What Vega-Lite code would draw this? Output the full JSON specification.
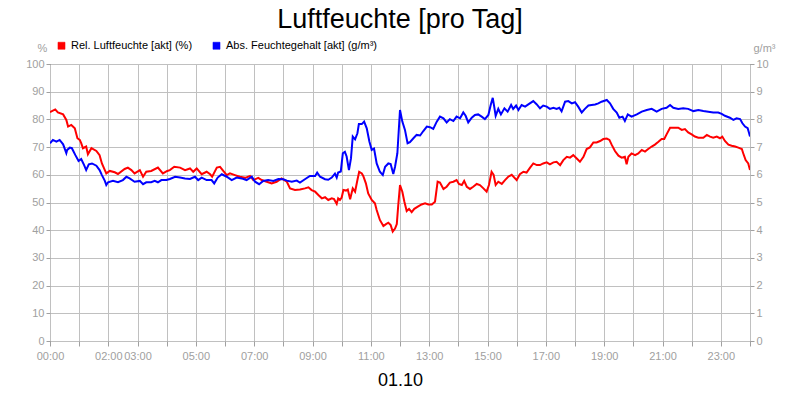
{
  "$schema": "https://vega.github.io/schema/vega-lite/v6.json",
  "width": 700,
  "height": 277,
  "autosize": {"type": "none"},
  "padding": {"left": 50, "top": 64, "right": 50, "bottom": 59},
  "background": "white",
  "title": {"text": "Luftfeuchte [pro Tag]", "fontSize": 27, "font": "Liberation Sans", "fontWeight": "normal", "color": "black", "anchor": "middle", "offset": 6},
  "config": {
    "view": {"stroke": "black", "strokeWidth": 1},
    "font": "Liberation Sans",
    "axis": {"labelColor": "#a0a0a0", "tickColor": "#a0a0a0", "gridColor": "#c0c0c0", "gridOpacity": 1, "domain": false, "labelFont": "Liberation Sans", "labelFontSize": 11, "tickSize": 4, "labelPadding": 2, "titleFont": "Liberation Sans", "titleFontWeight": "normal", "titleColor": "#a0a0a0", "titleFontSize": 11},
    "legend": {"labelFont": "Liberation Sans", "labelFontSize": 11, "labelColor": "black"}
  },
  "datasets": {
    "rel": [
      {"h":0.00,"v":82.6},{"h":0.18,"v":83.6},{"h":0.27,"v":82.5},{"h":0.45,"v":81.8},{"h":0.56,"v":79.8},{"h":0.62,"v":77.4},{"h":0.73,"v":78},{"h":0.85,"v":76.8},{"h":0.94,"v":73.2},{"h":1.02,"v":72.6},{"h":1.07,"v":71.4},{"h":1.13,"v":69.6},{"h":1.24,"v":70.2},{"h":1.30,"v":67.4},{"h":1.42,"v":69.6},{"h":1.59,"v":68.6},{"h":1.70,"v":67.1},{"h":1.78,"v":64.1},{"h":1.88,"v":61.7},{"h":1.93,"v":60.5},{"h":2.05,"v":61.4},{"h":2.22,"v":60.9},{"h":2.33,"v":60.3},{"h":2.56,"v":62.1},{"h":2.67,"v":62.6},{"h":2.79,"v":61.7},{"h":2.90,"v":60.5},{"h":3.08,"v":61.7},{"h":3.19,"v":59.3},{"h":3.30,"v":61.1},{"h":3.47,"v":61.4},{"h":3.70,"v":62.6},{"h":3.87,"v":60.5},{"h":4.02,"v":61.4},{"h":4.11,"v":61.7},{"h":4.26,"v":62.9},{"h":4.46,"v":62.6},{"h":4.63,"v":61.7},{"h":4.80,"v":62.3},{"h":4.91,"v":61.1},{"h":5.03,"v":62.3},{"h":5.20,"v":60.2},{"h":5.37,"v":61.1},{"h":5.49,"v":60.2},{"h":5.56,"v":59.3},{"h":5.72,"v":62.6},{"h":5.83,"v":62.9},{"h":5.94,"v":61.4},{"h":6.06,"v":59.9},{"h":6.17,"v":60.5},{"h":6.34,"v":59.9},{"h":6.51,"v":59.3},{"h":6.69,"v":58.9},{"h":6.86,"v":59.6},{"h":6.97,"v":58.1},{"h":7.14,"v":58.9},{"h":7.26,"v":58.1},{"h":7.43,"v":57.5},{"h":7.60,"v":56.9},{"h":7.77,"v":57.5},{"h":7.94,"v":58.7},{"h":8.12,"v":57.5},{"h":8.23,"v":55.1},{"h":8.40,"v":54.5},{"h":8.57,"v":54.7},{"h":8.74,"v":55.1},{"h":8.86,"v":55.5},{"h":8.97,"v":54.5},{"h":9.09,"v":53.9},{"h":9.20,"v":52.7},{"h":9.32,"v":51.5},{"h":9.43,"v":51.9},{"h":9.54,"v":50.9},{"h":9.66,"v":51.5},{"h":9.74,"v":51.2},{"h":9.83,"v":49.5},{"h":9.88,"v":51.5},{"h":9.94,"v":50.9},{"h":10.00,"v":51.8},{"h":10.06,"v":54.5},{"h":10.15,"v":54.3},{"h":10.21,"v":54.7},{"h":10.29,"v":51.2},{"h":10.38,"v":55.1},{"h":10.46,"v":53.9},{"h":10.54,"v":58.1},{"h":10.60,"v":61.1},{"h":10.69,"v":60.5},{"h":10.74,"v":59.6},{"h":10.83,"v":56.9},{"h":10.91,"v":53.3},{"h":11.03,"v":50.9},{"h":11.14,"v":49.7},{"h":11.20,"v":47.3},{"h":11.31,"v":43.7},{"h":11.43,"v":41.5},{"h":11.52,"v":42.2},{"h":11.60,"v":42.7},{"h":11.68,"v":41.9},{"h":11.75,"v":39.5},{"h":11.83,"v":40.6},{"h":11.89,"v":42.2},{"h":11.94,"v":49},{"h":12.00,"v":56.3},{"h":12.08,"v":53.9},{"h":12.15,"v":50.3},{"h":12.23,"v":46.9},{"h":12.31,"v":47.7},{"h":12.40,"v":46.5},{"h":12.49,"v":47.7},{"h":12.61,"v":48.5},{"h":12.74,"v":49.3},{"h":12.86,"v":49.7},{"h":12.97,"v":49.3},{"h":13.09,"v":49.3},{"h":13.20,"v":50.3},{"h":13.29,"v":57.5},{"h":13.37,"v":57.2},{"h":13.49,"v":54.9},{"h":13.60,"v":55.7},{"h":13.71,"v":57.2},{"h":13.83,"v":57.5},{"h":13.94,"v":58.1},{"h":14.02,"v":56.7},{"h":14.12,"v":56.3},{"h":14.20,"v":57.8},{"h":14.29,"v":55.7},{"h":14.40,"v":54.9},{"h":14.51,"v":55.7},{"h":14.63,"v":56.7},{"h":14.74,"v":56.3},{"h":14.86,"v":55.1},{"h":14.97,"v":53.9},{"h":15.05,"v":56.3},{"h":15.14,"v":61.1},{"h":15.21,"v":60},{"h":15.28,"v":56.3},{"h":15.37,"v":57.5},{"h":15.49,"v":56.7},{"h":15.60,"v":58.1},{"h":15.71,"v":59.3},{"h":15.83,"v":60},{"h":16.00,"v":58.1},{"h":16.11,"v":60.2},{"h":16.23,"v":61.1},{"h":16.34,"v":60.8},{"h":16.46,"v":62.6},{"h":16.57,"v":64.1},{"h":16.69,"v":63.5},{"h":16.80,"v":63.5},{"h":16.91,"v":64.1},{"h":17.03,"v":64.5},{"h":17.14,"v":63.8},{"h":17.26,"v":64.5},{"h":17.37,"v":64.7},{"h":17.49,"v":63.5},{"h":17.60,"v":65.3},{"h":17.72,"v":66.5},{"h":17.83,"v":66.2},{"h":17.94,"v":67.1},{"h":18.06,"v":65.9},{"h":18.17,"v":64.7},{"h":18.29,"v":66.5},{"h":18.40,"v":69.3},{"h":18.51,"v":69.9},{"h":18.63,"v":71.7},{"h":18.74,"v":71.7},{"h":18.86,"v":72.2},{"h":18.97,"v":72.9},{"h":19.09,"v":73.1},{"h":19.18,"v":72.6},{"h":19.26,"v":70.8},{"h":19.37,"v":68.6},{"h":19.49,"v":66.9},{"h":19.60,"v":66.2},{"h":19.71,"v":66.5},{"h":19.77,"v":63.8},{"h":19.83,"v":66.5},{"h":19.94,"v":67.7},{"h":20.06,"v":67.1},{"h":20.17,"v":67.7},{"h":20.29,"v":69},{"h":20.40,"v":68.4},{"h":20.51,"v":69.3},{"h":20.63,"v":70.2},{"h":20.74,"v":70.9},{"h":20.86,"v":71.9},{"h":20.97,"v":72.9},{"h":21.06,"v":72.9},{"h":21.14,"v":74.6},{"h":21.26,"v":77},{"h":21.43,"v":77},{"h":21.54,"v":77},{"h":21.66,"v":76.2},{"h":21.77,"v":76.5},{"h":21.88,"v":75.3},{"h":22.00,"v":74.6},{"h":22.11,"v":73.8},{"h":22.23,"v":73.4},{"h":22.40,"v":73.4},{"h":22.52,"v":74.4},{"h":22.63,"v":73.8},{"h":22.74,"v":73.4},{"h":22.86,"v":73.8},{"h":22.97,"v":73.2},{"h":23.05,"v":73.8},{"h":23.14,"v":72.2},{"h":23.26,"v":70.9},{"h":23.37,"v":70.5},{"h":23.49,"v":70.2},{"h":23.60,"v":69.8},{"h":23.72,"v":69.3},{"h":23.77,"v":67.7},{"h":23.85,"v":65.3},{"h":23.94,"v":64.1},{"h":24.00,"v":61.7}
    ],
    "abs": [
      {"h":0.00,"v":7.14},{"h":0.10,"v":7.26},{"h":0.22,"v":7.2},{"h":0.33,"v":7.26},{"h":0.45,"v":7.1},{"h":0.56,"v":6.78},{"h":0.59,"v":6.9},{"h":0.68,"v":6.98},{"h":0.75,"v":6.96},{"h":0.87,"v":6.71},{"h":0.98,"v":6.5},{"h":1.07,"v":6.57},{"h":1.17,"v":6.35},{"h":1.24,"v":6.17},{"h":1.33,"v":6.38},{"h":1.44,"v":6.41},{"h":1.59,"v":6.33},{"h":1.70,"v":6.17},{"h":1.78,"v":5.99},{"h":1.88,"v":5.78},{"h":1.93,"v":5.63},{"h":1.99,"v":5.73},{"h":2.16,"v":5.78},{"h":2.33,"v":5.73},{"h":2.50,"v":5.81},{"h":2.62,"v":5.93},{"h":2.73,"v":5.87},{"h":2.90,"v":5.75},{"h":3.08,"v":5.78},{"h":3.19,"v":5.66},{"h":3.30,"v":5.73},{"h":3.47,"v":5.73},{"h":3.59,"v":5.78},{"h":3.70,"v":5.73},{"h":3.82,"v":5.81},{"h":3.99,"v":5.81},{"h":4.11,"v":5.85},{"h":4.29,"v":5.93},{"h":4.46,"v":5.9},{"h":4.63,"v":5.87},{"h":4.80,"v":5.85},{"h":4.97,"v":5.93},{"h":5.08,"v":5.81},{"h":5.20,"v":5.9},{"h":5.37,"v":5.81},{"h":5.54,"v":5.81},{"h":5.63,"v":5.69},{"h":5.75,"v":5.9},{"h":5.89,"v":6.02},{"h":6.06,"v":5.93},{"h":6.23,"v":5.81},{"h":6.40,"v":5.9},{"h":6.57,"v":5.87},{"h":6.74,"v":5.81},{"h":6.92,"v":5.93},{"h":7.03,"v":5.75},{"h":7.17,"v":5.66},{"h":7.31,"v":5.78},{"h":7.48,"v":5.81},{"h":7.66,"v":5.78},{"h":7.83,"v":5.85},{"h":8.00,"v":5.84},{"h":8.12,"v":5.79},{"h":8.29,"v":5.75},{"h":8.46,"v":5.79},{"h":8.57,"v":5.72},{"h":8.74,"v":5.84},{"h":8.91,"v":5.96},{"h":9.09,"v":5.96},{"h":9.16,"v":6.08},{"h":9.26,"v":5.93},{"h":9.43,"v":5.84},{"h":9.54,"v":5.82},{"h":9.66,"v":5.9},{"h":9.77,"v":6.04},{"h":9.83,"v":5.9},{"h":9.88,"v":6.08},{"h":9.97,"v":6.12},{"h":10.04,"v":6.78},{"h":10.11,"v":6.83},{"h":10.17,"v":6.66},{"h":10.25,"v":6.17},{"h":10.32,"v":6.6},{"h":10.38,"v":7.38},{"h":10.46,"v":7.28},{"h":10.54,"v":7.5},{"h":10.59,"v":7.83},{"h":10.69,"v":7.83},{"h":10.77,"v":7.92},{"h":10.86,"v":7.68},{"h":10.95,"v":7.2},{"h":11.03,"v":6.9},{"h":11.11,"v":6.95},{"h":11.20,"v":6.41},{"h":11.31,"v":6.11},{"h":11.41,"v":5.99},{"h":11.49,"v":6.29},{"h":11.60,"v":6.41},{"h":11.68,"v":6.39},{"h":11.77,"v":6.03},{"h":11.83,"v":6.29},{"h":11.91,"v":6.78},{"h":12.00,"v":8.34},{"h":12.08,"v":7.92},{"h":12.17,"v":7.62},{"h":12.26,"v":7.14},{"h":12.34,"v":7.18},{"h":12.46,"v":7.32},{"h":12.57,"v":7.44},{"h":12.69,"v":7.42},{"h":12.80,"v":7.58},{"h":12.92,"v":7.74},{"h":13.03,"v":7.72},{"h":13.14,"v":7.66},{"h":13.26,"v":7.92},{"h":13.37,"v":8.1},{"h":13.49,"v":8.04},{"h":13.60,"v":7.89},{"h":13.71,"v":8.01},{"h":13.83,"v":7.94},{"h":13.94,"v":8.1},{"h":14.06,"v":8.04},{"h":14.17,"v":8.25},{"h":14.25,"v":8.13},{"h":14.34,"v":7.89},{"h":14.46,"v":8.06},{"h":14.57,"v":8.16},{"h":14.68,"v":8.18},{"h":14.80,"v":8.1},{"h":14.91,"v":8.01},{"h":15.03,"v":8.16},{"h":15.11,"v":8.52},{"h":15.18,"v":8.78},{"h":15.23,"v":8.46},{"h":15.28,"v":8.13},{"h":15.37,"v":8.38},{"h":15.46,"v":8.18},{"h":15.58,"v":8.4},{"h":15.69,"v":8.28},{"h":15.81,"v":8.52},{"h":15.88,"v":8.38},{"h":15.98,"v":8.5},{"h":16.06,"v":8.34},{"h":16.17,"v":8.52},{"h":16.29,"v":8.46},{"h":16.40,"v":8.54},{"h":16.57,"v":8.66},{"h":16.69,"v":8.54},{"h":16.80,"v":8.4},{"h":16.91,"v":8.5},{"h":17.03,"v":8.46},{"h":17.14,"v":8.38},{"h":17.26,"v":8.42},{"h":17.37,"v":8.38},{"h":17.46,"v":8.42},{"h":17.54,"v":8.29},{"h":17.66,"v":8.64},{"h":17.77,"v":8.66},{"h":17.89,"v":8.58},{"h":18.00,"v":8.62},{"h":18.11,"v":8.46},{"h":18.23,"v":8.25},{"h":18.34,"v":8.38},{"h":18.46,"v":8.5},{"h":18.57,"v":8.52},{"h":18.69,"v":8.54},{"h":18.80,"v":8.58},{"h":18.91,"v":8.64},{"h":19.09,"v":8.7},{"h":19.20,"v":8.58},{"h":19.31,"v":8.38},{"h":19.43,"v":8.25},{"h":19.52,"v":8.06},{"h":19.63,"v":8.1},{"h":19.71,"v":7.94},{"h":19.81,"v":8.18},{"h":19.94,"v":8.1},{"h":20.12,"v":8.18},{"h":20.29,"v":8.28},{"h":20.46,"v":8.34},{"h":20.63,"v":8.38},{"h":20.80,"v":8.28},{"h":20.97,"v":8.38},{"h":21.14,"v":8.42},{"h":21.26,"v":8.52},{"h":21.37,"v":8.42},{"h":21.54,"v":8.38},{"h":21.71,"v":8.4},{"h":21.88,"v":8.38},{"h":22.06,"v":8.3},{"h":22.23,"v":8.34},{"h":22.40,"v":8.3},{"h":22.57,"v":8.28},{"h":22.74,"v":8.25},{"h":22.91,"v":8.25},{"h":23.03,"v":8.2},{"h":23.14,"v":8.13},{"h":23.31,"v":8.06},{"h":23.43,"v":7.98},{"h":23.54,"v":8.04},{"h":23.66,"v":8.01},{"h":23.74,"v":7.86},{"h":23.83,"v":7.74},{"h":23.92,"v":7.68},{"h":23.97,"v":7.5},{"h":24.00,"v":7.38}
    ]
  },
  "encoding": {
    "x": {"field": "h", "type": "quantitative", "scale": {"domain": [0, 24], "nice": false, "zero": false},
      "axis": {"values": [0,1,2,3,4,5,6,7,8,9,10,11,12,13,14,15,16,17,18,19,20,21,22,23,24],
        "labelExpr": "indexof([0,2,3,5,7,9,11,13,15,17,19,21,23], datum.value) >= 0 ? (datum.value < 10 ? '0' : '') + datum.value + ':00' : ''",
        "labelPadding": 4, "tickSize": 5, "labelFlush": false, "labelOverlap": false,
        "title": "01.10", "titleFontSize": 18, "titleColor": "black", "titlePadding": 10}}
  },
  "layer": [
    {
      "data": {"name": "rel"},
      "mark": {"type": "line", "strokeWidth": 2, "clip": true},
      "encoding": {
        "y": {"field": "v", "type": "quantitative", "scale": {"domain": [0, 100], "nice": false},
          "axis": {"orient": "left", "values": [0,10,20,30,40,50,60,70,80,90,100], "title": "%", "titleAngle": 0, "titleAlign": "center", "titleBaseline": "middle", "titleX": -8, "titleY": -16}},
        "color": {"datum": "Rel. Luftfeuchte [akt] (%)", "type": "nominal",
          "scale": {"domain": ["Rel. Luftfeuchte [akt] (%)", "Abs. Feuchtegehalt [akt] (g/m³)"], "range": ["#ff0000", "#0000ff"]},
          "legend": {"orient": "none", "legendX": 6, "legendY": -24, "direction": "horizontal", "title": null, "symbolType": "square", "symbolSize": 50, "columnPadding": 18, "labelOffset": 4,
            "encode": {"symbols": {"update": {"fill": {"scale": "color", "field": "value"}, "stroke": {"value": "#400000"}, "strokeWidth": {"value": 0.5}}}}}}
      }
    },
    {
      "data": {"name": "abs"},
      "mark": {"type": "line", "strokeWidth": 2, "clip": true},
      "encoding": {
        "y": {"field": "v", "type": "quantitative", "scale": {"domain": [0, 10], "nice": false},
          "axis": {"orient": "right", "grid": false, "values": [0,1,2,3,4,5,6,7,8,9,10], "title": "g/m³", "titleAngle": 0, "titleAlign": "center", "titleBaseline": "middle", "titleX": 14, "titleY": -16}},
        "color": {"datum": "Abs. Feuchtegehalt [akt] (g/m³)", "type": "nominal"}
      }
    }
  ],
  "resolve": {"scale": {"y": "independent"}}
}
